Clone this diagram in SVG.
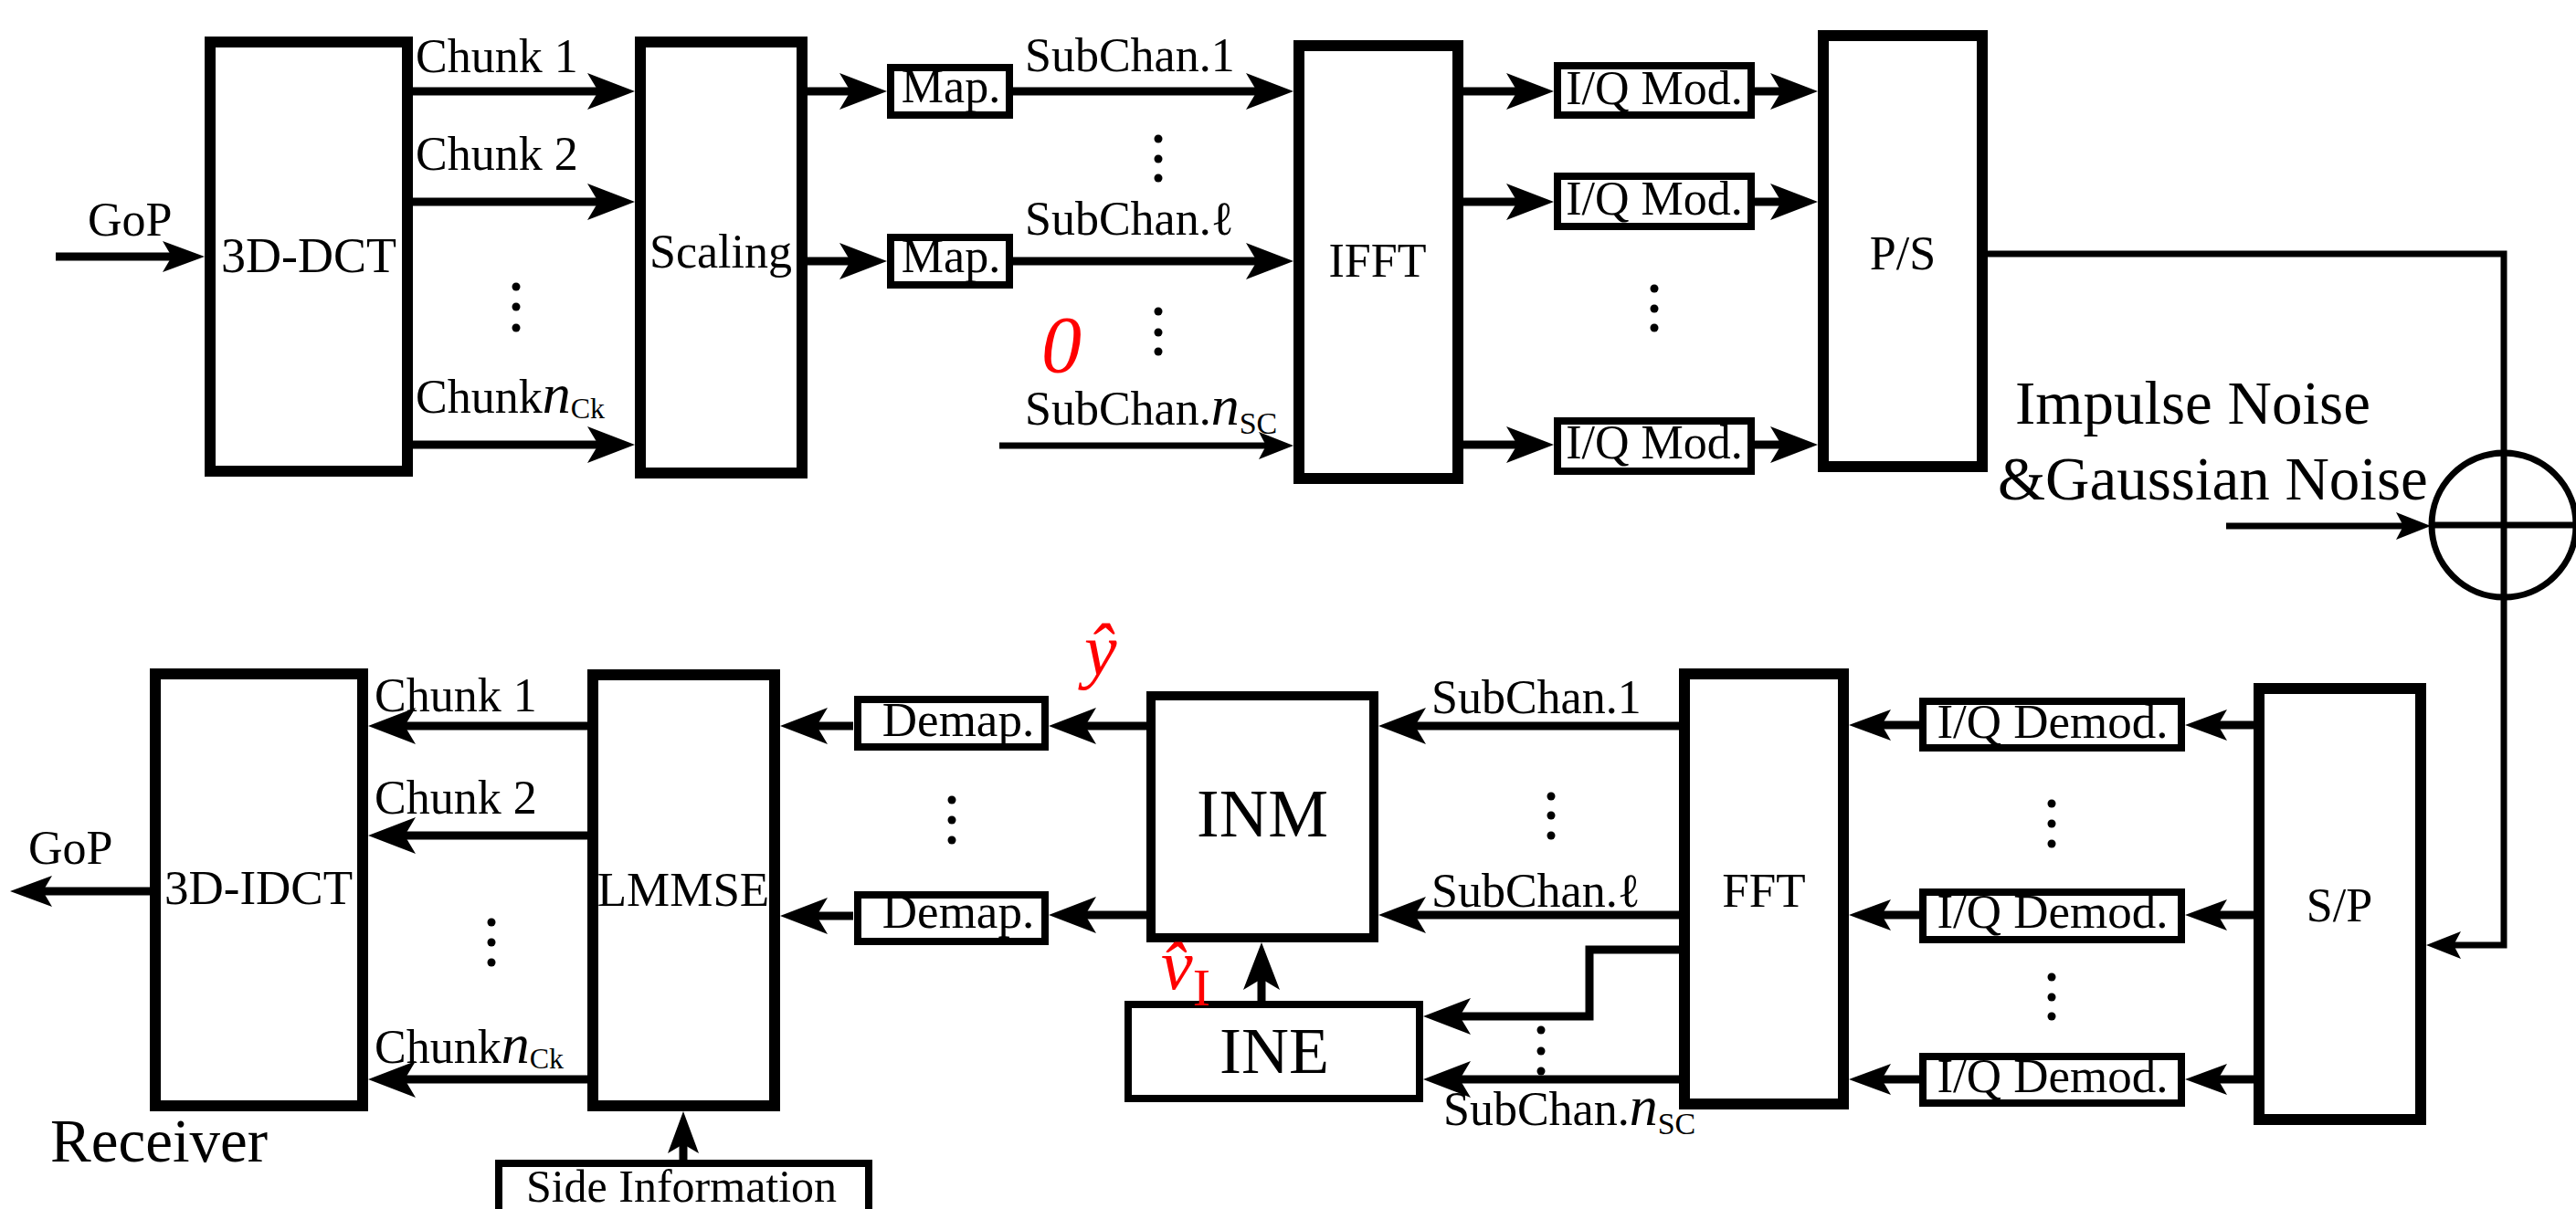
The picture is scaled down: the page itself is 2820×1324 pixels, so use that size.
<svg xmlns="http://www.w3.org/2000/svg" width="2820" height="1324" viewBox="0 0 2820 1324">
<defs>
<style>
.bb{fill:#fff;stroke:#000;stroke-width:12}
.sb{fill:#fff;stroke:#000;stroke-width:8}
.ib{fill:#fff;stroke:#000;stroke-width:10}
.ln{fill:none;stroke:#000;stroke-width:9}
.tn{fill:none;stroke:#000;stroke-width:7}
.t{font-family:"Liberation Serif","Times New Roman",serif;font-size:52px;fill:#000}
.c{text-anchor:middle}
.it{font-style:italic}
.red{fill:#ff0000}
.dot{fill:#000}
</style>
<marker id="ah" markerUnits="userSpaceOnUse" markerWidth="52" markerHeight="40" viewBox="0 0 52 40" refX="12" refY="20" orient="auto"><path d="M52,20 L0,0 L12,20 L0,40 Z" fill="#000"/></marker>
<marker id="ahs" markerUnits="userSpaceOnUse" markerWidth="46" markerHeight="34" viewBox="0 0 46 34" refX="10" refY="17" orient="auto"><path d="M46,17 L0,0 L10,17 L0,34 Z" fill="#000"/></marker>
<marker id="aht" markerUnits="userSpaceOnUse" markerWidth="38" markerHeight="30" viewBox="0 0 38 30" refX="8" refY="15" orient="auto"><path d="M38,15 L0,0 L8,15 L0,30 Z" fill="#000"/></marker>
</defs>
<rect width="2820" height="1324" fill="#fff"/>

<g id="connectors">
<path class="ln" d="M61,281 H188" marker-end="url(#ahs)"/>
<path class="ln" d="M452,100 H655" marker-end="url(#ah)"/>
<path class="ln" d="M452,221 H655" marker-end="url(#ah)"/>
<path class="ln" d="M452,487 H655" marker-end="url(#ah)"/>
<path class="ln" d="M884,100 H931" marker-end="url(#ah)"/>
<path class="ln" d="M884,286 H931" marker-end="url(#ah)"/>
<path class="ln" d="M1109,100 H1376" marker-end="url(#ah)"/>
<path class="ln" d="M1109,286 H1376" marker-end="url(#ah)"/>
<path class="tn" d="M1094,488 H1386" marker-end="url(#aht)"/>
<path class="ln" d="M1602,100 H1661" marker-end="url(#ah)"/>
<path class="ln" d="M1602,221 H1661" marker-end="url(#ah)"/>
<path class="ln" d="M1602,487 H1661" marker-end="url(#ah)"/>
<path class="ln" d="M1921,100 H1950" marker-end="url(#ah)"/>
<path class="ln" d="M1921,221 H1950" marker-end="url(#ah)"/>
<path class="ln" d="M1921,487 H1950" marker-end="url(#ah)"/>
<path class="tn" d="M2176,278 H2741 V1035 H2686" marker-end="url(#aht)"/>
<path class="tn" d="M2437,576 H2631" marker-end="url(#aht)"/>
<path class="ln" d="M2467,794 H2428" marker-end="url(#ahs)"/>
<path class="ln" d="M2467,1002 H2428" marker-end="url(#ahs)"/>
<path class="ln" d="M2467,1182 H2428" marker-end="url(#ahs)"/>
<path class="ln" d="M2101,794 H2060" marker-end="url(#ahs)"/>
<path class="ln" d="M2101,1002 H2060" marker-end="url(#ahs)"/>
<path class="ln" d="M2101,1182 H2060" marker-end="url(#ahs)"/>
<path class="ln" d="M1838,795 H1549" marker-end="url(#ah)"/>
<path class="ln" d="M1838,1002 H1549" marker-end="url(#ah)"/>
<path class="ln" d="M1838,1040 H1740 V1113 H1598" marker-end="url(#ah)"/>
<path class="ln" d="M1838,1182 H1598" marker-end="url(#ah)"/>
<path class="ln" d="M1381,1096 V1072" marker-end="url(#ah)"/>
<path class="ln" d="M1255,795 H1188" marker-end="url(#ah)"/>
<path class="ln" d="M1255,1002 H1188" marker-end="url(#ah)"/>
<path class="ln" d="M934,795 H894" marker-end="url(#ah)"/>
<path class="ln" d="M934,1003 H894" marker-end="url(#ah)"/>
<path class="ln" d="M643,795 H443" marker-end="url(#ah)"/>
<path class="ln" d="M643,915 H443" marker-end="url(#ah)"/>
<path class="ln" d="M643,1182 H443" marker-end="url(#ah)"/>
<path class="ln" d="M164,976 H47" marker-end="url(#ahs)"/>
<path class="ln" d="M748,1270 V1253" marker-end="url(#ahs)"/>
</g>

<g id="labels-top">
<text class="t" x="96" y="258">GoP</text>
<text class="t" x="455" y="79">Chunk 1</text>
<text class="t" x="455" y="186">Chunk 2</text>
<text class="t" x="455" y="452">Chunk<tspan class="it" style="font-size:62px">n</tspan><tspan style="font-size:32px" dy="6">Ck</tspan></text>
<text class="t" x="1122" y="78">SubChan.1</text>
<text class="t" x="1122" y="257">SubChan.ℓ</text>
<text class="t" x="1122" y="465">SubChan.<tspan class="it" style="font-size:62px">n</tspan><tspan style="font-size:34px" dy="10">SC</tspan></text>
<text class="t it red" x="1140" y="407" style="font-size:88px">0</text>
<text class="t" x="2206" y="464" style="font-size:67px">Impulse Noise</text>
<text class="t" x="2187" y="547" style="font-size:67px">&amp;Gaussian Noise</text>
<circle class="dot" cx="565" cy="314" r="4.5"/><circle class="dot" cx="565" cy="336" r="4.5"/><circle class="dot" cx="565" cy="359" r="4.5"/>
<circle class="dot" cx="1268" cy="152" r="4.5"/><circle class="dot" cx="1268" cy="174" r="4.5"/><circle class="dot" cx="1268" cy="195" r="4.5"/>
<circle class="dot" cx="1268" cy="341" r="4.5"/><circle class="dot" cx="1268" cy="364" r="4.5"/><circle class="dot" cx="1268" cy="385" r="4.5"/>
<circle class="dot" cx="1811" cy="316" r="4.5"/><circle class="dot" cx="1811" cy="338" r="4.5"/><circle class="dot" cx="1811" cy="359" r="4.5"/>
</g>

<g id="dct"><rect class="bb" x="230" y="46" width="216" height="470"/><text class="t c" x="338" y="298" style="font-size:54px">3D-DCT</text></g>
<g id="scaling"><rect class="bb" x="701" y="46" width="177" height="472"/><text class="t c" x="789" y="293">Scaling</text></g>
<g id="map1"><rect class="sb" x="975" y="74" width="130" height="52"/><text class="t c" x="1041" y="112">Map.</text></g>
<g id="map2"><rect class="sb" x="975" y="260" width="130" height="52"/><text class="t c" x="1041" y="298">Map.</text></g>
<g id="ifft"><rect class="bb" x="1422" y="50" width="174" height="474"/><text class="t c" x="1508" y="303">IFFT</text></g>
<g id="iqmod1"><rect class="sb" x="1705" y="72" width="212" height="54"/><text class="t c" x="1811" y="114">I/Q Mod.</text></g>
<g id="iqmod2"><rect class="sb" x="1705" y="193" width="212" height="55"/><text class="t c" x="1811" y="235">I/Q Mod.</text></g>
<g id="iqmod3"><rect class="sb" x="1705" y="461" width="212" height="55"/><text class="t c" x="1811" y="502">I/Q Mod.</text></g>
<g id="ps"><rect class="bb" x="1996" y="39" width="174" height="472"/><text class="t c" x="2083" y="295">P/S</text></g>
<g id="adder"><circle class="tn" cx="2741" cy="575" r="79"/><path class="tn" d="M2662,575 H2820"/></g>

<g id="sp"><rect class="bb" x="2473" y="754" width="177" height="472"/><text class="t c" x="2561" y="1009">S/P</text></g>
<g id="iqdemod1"><rect class="sb" x="2105" y="768" width="283" height="51"/><text class="t c" x="2247" y="808" style="font-size:53px">I/Q Demod.</text></g>
<g id="iqdemod2"><rect class="sb" x="2105" y="977" width="283" height="52"/><text class="t c" x="2247" y="1016" style="font-size:53px">I/Q Demod.</text></g>
<g id="iqdemod3"><rect class="sb" x="2105" y="1157" width="283" height="51"/><text class="t c" x="2247" y="1196" style="font-size:53px">I/Q Demod.</text></g>
<g id="fft"><rect class="bb" x="1844" y="738" width="174" height="471"/><text class="t c" x="1931" y="993" style="font-size:53px">FFT</text></g>
<g id="inm"><rect class="ib" x="1260" y="762" width="244" height="265"/><text class="t c" x="1382" y="916" style="font-size:74px">INM</text></g>
<g id="ine"><rect class="sb" x="1235" y="1100" width="319" height="103"/><text class="t c" x="1395" y="1175" style="font-size:72px">INE</text></g>
<g id="demap1"><rect class="sb" x="939" y="766" width="205" height="52"/><text class="t c" x="1049" y="806" style="font-size:53px">Demap.</text></g>
<g id="demap2"><rect class="sb" x="939" y="980" width="205" height="51"/><text class="t c" x="1049" y="1016" style="font-size:53px">Demap.</text></g>
<g id="lmmse"><rect class="bb" x="649" y="739" width="199" height="472"/><text class="t c" x="748" y="992" style="font-size:53px">LMMSE</text></g>
<g id="idct"><rect class="bb" x="170" y="738" width="227" height="473"/><text class="t c" x="283" y="990" style="font-size:53px">3D-IDCT</text></g>
<g id="side"><rect class="sb" x="546" y="1274" width="405" height="80"/><text class="t c" x="746" y="1316" style="font-size:50px">Side Information</text></g>

<g id="labels-bottom">
<text class="t" x="31" y="946">GoP</text>
<text class="t" x="55" y="1272" style="font-size:67px">Receiver</text>
<text class="t" x="410" y="779">Chunk 1</text>
<text class="t" x="410" y="891">Chunk 2</text>
<text class="t" x="410" y="1164">Chunk<tspan class="it" style="font-size:62px">n</tspan><tspan style="font-size:32px" dy="6">Ck</tspan></text>
<text class="t" x="1567" y="781">SubChan.1</text>
<text class="t" x="1567" y="993">SubChan.ℓ</text>
<text class="t" x="1580" y="1232">SubChan.<tspan class="it" style="font-size:62px">n</tspan><tspan style="font-size:34px" dy="10">SC</tspan></text>
<text class="t it red" x="1187" y="739" style="font-size:80px">ŷ</text>
<text class="t it red" x="1271" y="1083" style="font-size:78px">v̂<tspan style="font-style:normal;font-size:58px" dy="18">I</tspan></text>
<circle class="dot" cx="538" cy="1010" r="4.5"/><circle class="dot" cx="538" cy="1032" r="4.5"/><circle class="dot" cx="538" cy="1054" r="4.5"/>
<circle class="dot" cx="1042" cy="876" r="4.5"/><circle class="dot" cx="1042" cy="898" r="4.5"/><circle class="dot" cx="1042" cy="920" r="4.5"/>
<circle class="dot" cx="1698" cy="872" r="4.5"/><circle class="dot" cx="1698" cy="893" r="4.5"/><circle class="dot" cx="1698" cy="915" r="4.5"/>
<circle class="dot" cx="1687" cy="1128" r="4.5"/><circle class="dot" cx="1687" cy="1151" r="4.5"/><circle class="dot" cx="1687" cy="1173" r="4.5"/>
<circle class="dot" cx="2246" cy="880" r="4.5"/><circle class="dot" cx="2246" cy="902" r="4.5"/><circle class="dot" cx="2246" cy="924" r="4.5"/>
<circle class="dot" cx="2246" cy="1070" r="4.5"/><circle class="dot" cx="2246" cy="1092" r="4.5"/><circle class="dot" cx="2246" cy="1113" r="4.5"/>
</g>
</svg>
